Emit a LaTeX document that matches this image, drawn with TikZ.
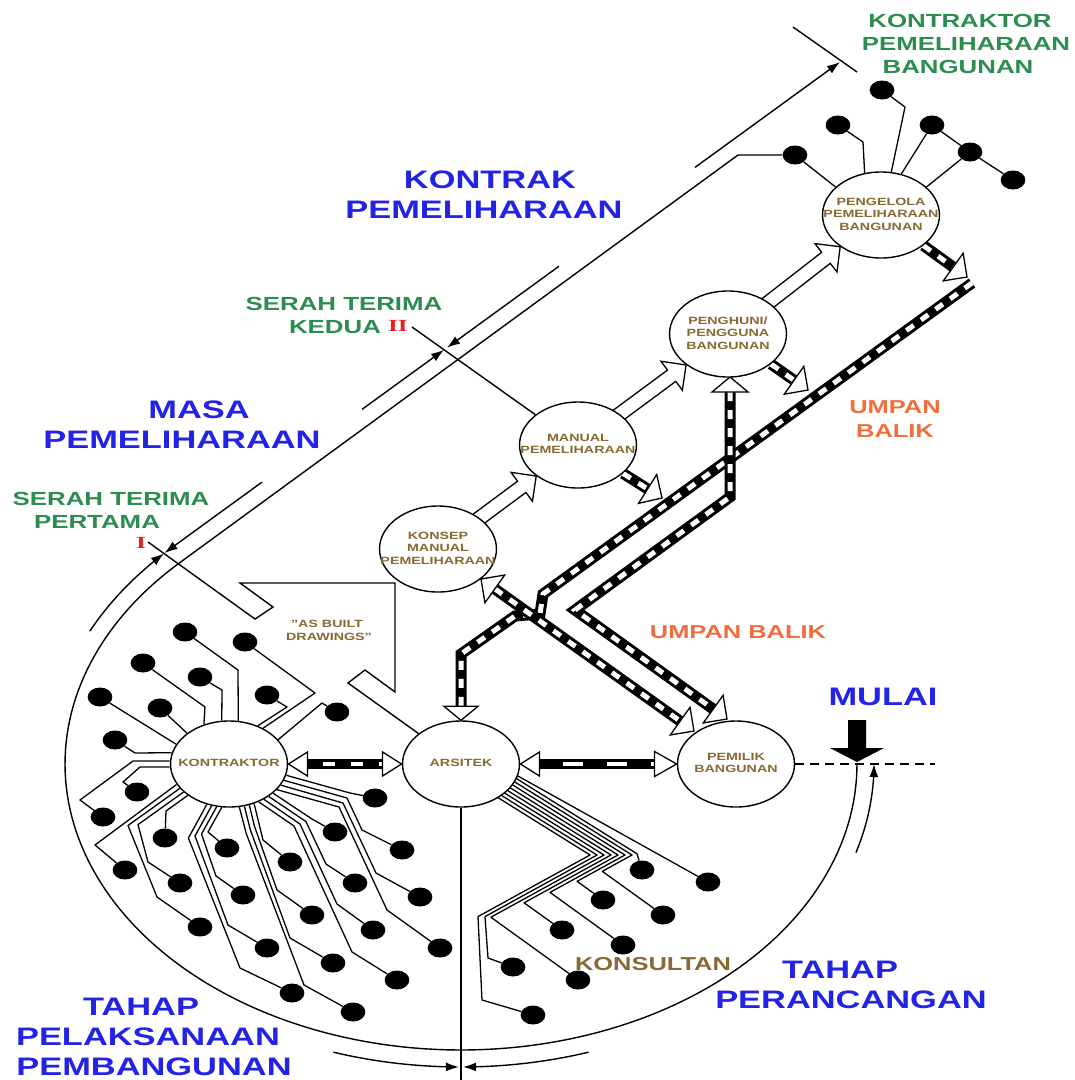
\documentclass[tikz,border=0pt]{standalone}
\usepackage{fontspec}
\setmainfont{Liberation Sans}
\newfontfamily\romanfont{Liberation Serif}
\usetikzlibrary{arrows.meta,calc,backgrounds}
\definecolor{tblue}{RGB}{35,35,230}
\definecolor{tgreen}{RGB}{45,140,80}
\definecolor{torange}{RGB}{240,110,60}
\definecolor{tbrown}{RGB}{135,105,50}
\definecolor{tred}{RGB}{235,30,30}
\newcommand\bubtxt[1]{\makebox[0pt]{\begin{tabular}{@{}c@{}}#1\end{tabular}}}
\newcommand\rhead[4]{%
  \coordinate (hhb) at ($(#1)!#3!(#2)$);
  \draw[fill=white,line width=1.3pt,line join=miter]
    (#1) -- ($(hhb)!#4!90:(#1)$) -- ($(hhb)!#4!-90:(#1)$) -- cycle;}
\newcommand\rrailD[1]{%
  \draw[line width=11pt,line join=miter] #1;
  \draw[line width=5pt,white,dash pattern=on 9pt off 9pt,line join=miter] #1;}
\newcommand\rrailH[2]{%
  \draw[line width=10pt] #1;
  \draw[line width=4pt,white,#2] #1;}
\newcommand\blockarr[2]{%
  \coordinate (bab) at ($(#2)!18pt!(#1)$);
  \filldraw[fill=white,line width=1.3pt,line join=miter]
    ($(#1)!7pt!90:(#2)$) -- ($(bab)!7pt!90:(#2)$) -- ($(bab)!18pt!90:(#2)$)
    -- (#2) -- ($(bab)!18pt!-90:(#2)$) -- ($(bab)!7pt!-90:(#2)$) -- ($(#1)!7pt!-90:(#2)$);}
\tikzset{
  bub/.style={circle,draw=black,line width=1.4pt,fill=white,minimum size=86pt,inner sep=0pt,xscale=1.36,text=tbrown,font=\fontsize{10.5}{12.5}\selectfont\bfseries},
  blob/.style={circle,fill=black,minimum size=19pt,inner sep=0pt,xscale=1.3},
  wire/.style={line width=1.3pt,line join=round},
  guide/.style={line width=1.4pt},
  dimtip/.style={-{Latex[length=13pt,width=9pt]}},
  lab/.style={anchor=base,inner sep=0pt,xscale=1.36},
  bluet/.style={lab,text=tblue,font=\fontsize{25.3}{30}\selectfont\bfseries},
  greent/.style={lab,text=tgreen,font=\fontsize{19}{22}\selectfont\bfseries},
  oranget/.style={lab,text=torange,font=\fontsize{18.7}{22}\selectfont\bfseries},
  redt/.style={lab,xscale=1.1,text=tred,font=\romanfont\fontsize{17}{20}\selectfont\bfseries},
  brownt/.style={lab,text=tbrown,font=\fontsize{10.5}{12.5}\selectfont\bfseries},
  brownbig/.style={lab,text=tbrown,font=\fontsize{18.7}{22}\selectfont\bfseries},
}
\begin{document}
\begin{tikzpicture}[x=1pt,y=-1pt]
\useasboundingbox (0,0) rectangle (1075,1080);
% ---------- bubbles ----------
\node[bub] (kon) at (229,764) {\bubtxt{KONTRAKTOR}};
\node[bub] (ars) at (461,764) {\bubtxt{ARSITEK}};
\node[bub] (pem) at (736,764) {\bubtxt{PEMILIK\\BANGUNAN}};
\node[bub] (kmp) at (438,549) {\bubtxt{KONSEP\\MANUAL\\PEMELIHARAAN}};
\node[bub] (mp) at (578,445) {\bubtxt{MANUAL\\PEMELIHARAAN}};
\node[bub] (peng) at (728,334) {\bubtxt{PENGHUNI/\\PENGGUNA\\BANGUNAN}};
\node[bub] (pgl) at (881,215) {\bubtxt{PENGELOLA\\PEMELIHARAAN\\BANGUNAN}};
% ---------- dots ----------
\foreach \n/\a/\b in {kd1/185/632, kd2/245/642, kd3/143/663, kd4/200/677, kd5/267/695, kd6/337/712, kd7/100/697, kd8/160/708, kd9/115/740, kd10/103/817, kd11/137/792,
  la1/125/870, la2/165/838, la3/180/883, la4/200/927,
  m1/227/848, m2/243/895, m3/267/948, m4/292/993,
  a1/290/862, a2/312/915, a3/333/963, a4/353/1012,
  b1/335/832, b2/355/883, b3/373/930, b4/397/980,
  c1/375/798, c2/402/850, c3/420/897, c4/440/948,
  ad1/708/882, ad2/642/870, ad3/663/915, ad4/603/900, ad5/623/945, ad6/562/930, ad7/578/980, ad8/513/967, ad9/533/1015,
  pd1/882/90, pd2/838/125, pd3/932/125, pd4/970/152, pd5/1013/180, pd6/795/155}
  \node[blob] (\n) at (\a,\b) {};
% ---------- texts ----------
\node[bluet] (t1) at (490,188) {KONTRAK};
\node[bluet] (t2) at (484,218) {PEMELIHARAAN};
\node[bluet] (t3) at (199,418) {MASA};
\node[bluet] (t4) at (182,448) {PEMELIHARAAN};
\node[bluet] (t5) at (141,1015) {TAHAP};
\node[bluet] (t6) at (148,1045) {PELAKSANAAN};
\node[bluet] (t7) at (154,1075) {PEMBANGUNAN};
\node[bluet] (t8) at (840,978) {TAHAP};
\node[bluet] (t9) at (851,1008) {PERANCANGAN};
\node[bluet] (t10) at (883,705) {MULAI};
\node[greent] (g1) at (344,310) {SERAH TERIMA};
\node[greent] (g2) at (335,333) {KEDUA};
\node[redt] (r2) at (398,331) {II};
\node[greent] (g3) at (111,505) {SERAH TERIMA};
\node[greent] (g4) at (97,528) {PERTAMA};
\node[redt] (r1) at (141,548) {I};
\node[greent] (g5) at (960,27) {KONTRAKTOR};
\node[greent] (g6) at (966,50) {PEMELIHARAAN};
\node[greent] (g7) at (958,73) {BANGUNAN};
\node[oranget] (o1) at (738,638) {UMPAN BALIK};
\node[oranget] (o2) at (895,413) {UMPAN};
\node[oranget] (o3) at (895,437) {BALIK};
\node[brownbig] (kons) at (653,970) {KONSULTAN};
\node[brownt] (ab1) at (327,627) {"AS BUILT};
\node[brownt] (ab2) at (329,640) {DRAWINGS"};
% MULAI arrow
\fill (848,720) -- (866,720) -- (866,748) -- (884,748) -- (857,762) -- (830,748) -- (848,748) -- cycle;
% ---------- connectors ----------
\begin{scope}[on background layer]
% big ellipse and long line
\draw[guide] plot[domain=0:225,samples=150] ({461+396*cos(\x)},{764+286*sin(\x)}) -- (738,155) -- (pd6);
% outer dimension arcs
\draw[guide,dimtip] plot[domain=206:224,samples=30] ({461+413*cos(\x)},{764+303*sin(\x)});
\draw[guide,dimtip] plot[domain=108:90.3,samples=30] ({461+413*cos(\x)},{764+303*sin(\x)});
\draw[guide,dimtip] plot[domain=72:89.7,samples=30] ({461+413*cos(\x)},{764+303*sin(\x)});
\draw[guide,dimtip] plot[domain=17:0,samples=30] ({461+413*cos(\x)},{764+303*sin(\x)});
% dimension line segments
\draw[guide,dimtip] (262,482.1) -- (164.5,553);
\draw[guide,dimtip] (362,409.4) -- (444,349.8);
\draw[guide,dimtip] (559,266.2) -- (447,347.7);
\draw[guide,dimtip] (695,167.4) -- (840,62);
\draw[guide] (793,27) -- (857,72);
\draw[guide] (412,327) -- (mp);
\draw[guide] (148,542) -- (255,619) -- (273,607) -- (240,583) -- (395,583) -- (395,692) -- (365,670) -- (348,683) -- (ars);
\draw[guide] (ars) -- (461,1080);
\draw[guide,dash pattern=on 9pt off 6pt] (pem) -- (935,764);
% kontraktor traces
\draw[wire] (kd1) -- (238,670) -- (kon.81);
\draw[wire] (kd3) -- (205,707) -- (kon.115);
\draw[wire] (kd4) -- (222,690) -- (kon.97);
\draw[wire] (kd2) -- (315,693) -- (kon.55);
\draw[wire] (kd5) -- (287,707) -- (kon.61);
\draw[wire] (kd6) -- (322,703) -- (kon.34);
\draw[wire] (kd7) -- (kon.153);
\draw[wire] (kd8) -- (kon.135);
\draw[wire] (kd9) -- (135,753) -- (kon.165);
\draw[wire] (kd10) -- (80,800) -- (133,761) -- (kon.176);
\draw[wire] (kd11) -- (123,782) -- (140,767) -- (kon.184);
\draw[wire] (kon.-152) -- (95,845) -- (la1);
\draw[wire] (kon.-146) -- (128,825.5) -- (157,897) -- (la4);
\draw[wire] (kon.-140) -- (138,824.6) -- (148,862) -- (la3);
\draw[wire] (kon.-134) -- (166,811) -- (la2);
\draw[wire] (kon.-97) -- (208,832) -- (m1);
\draw[wire] (kon.-102) -- (201.5,834) -- (216,876) -- (m2);
\draw[wire] (kon.-107) -- (195,836) -- (228,925) -- (m3);
\draw[wire] (kon.-112) -- (188.4,838) -- (240,968) -- (m4);
\draw[wire] (kon.-65) -- (263,840) -- (a1);
\draw[wire] (kon.-70) -- (254.4,826) -- (277,890) -- (a2);
\draw[wire] (kon.-75) -- (250.4,830) -- (290,938) -- (a3);
\draw[wire] (kon.-80) -- (246.4,834) -- (304,985) -- (a4);
\draw[wire] (kon.-42) -- (312,819) -- (b1);
\draw[wire] (kon.-48) -- (306,821.6) -- (326,864) -- (b2);
\draw[wire] (kon.-54) -- (300,824) -- (337,904) -- (b3);
\draw[wire] (kon.-60) -- (294,826) -- (352,952) -- (b4);
\draw[wire] (kon.-15) -- (350,793) -- (c1);
\draw[wire] (kon.-22) -- (347,798) -- (362,830) -- (c2);
\draw[wire] (kon.-29) -- (343,803) -- (376,873) -- (c3);
\draw[wire] (kon.-36) -- (339,807) -- (387,910) -- (c4);
% arsitek (konsultan) traces
\draw[wire] (500,766) -- (ad1);
\draw[wire] (499,767.7) -- (637,853.8) -- (ad2);
\draw[wire] (492,767.7) -- (632,855) -- (602.3,871.3) -- (ad3);
\draw[wire] (485,767.7) -- (625,855) -- (577.1,881.3) -- (ad4);
\draw[wire] (478,767.7) -- (618,855) -- (550,892.4) -- (ad5);
\draw[wire] (471,767.7) -- (611,855) -- (524.1,902.8) -- (ad6);
\draw[wire] (464,767.7) -- (604,855) -- (490.9,917.2) -- (ad7);
\draw[wire] (457,767.7) -- (597,855) -- (485,916.6) -- (488,958) -- (ad8);
\draw[wire] (450,767.7) -- (590,855) -- (478,916.6) -- (482,1000) -- (ad9);
% pengelola traces
\draw[wire] (pd1) -- (905,107) -- (pgl.80);
\draw[wire] (pd2) -- (863,142) -- (pgl.106);
\draw[wire] (pd3) -- (pgl.70);
\draw[wire] (pd4) -- (pgl.40);
\draw[wire] (pd3) -- (pd4) -- (pd5);
\draw[wire] (pd6) -- (pgl.140);
% block arrows
\path (kmp) -- coordinate[pos=1] (ba1t) (mp);
\blockarr{kmp.center}{ba1t}
\path (mp) -- coordinate[pos=1] (ba2t) (peng);
\blockarr{mp.center}{ba2t}
\path (peng) -- coordinate[pos=1] (ba3t) (pgl);
\blockarr{peng.center}{ba3t}
% feedback rails
\coordinate (raT) at (967,277);
\coordinate (rbT) at (808,390);
\coordinate (rcT) at (662,498);
\path (pgl) -- coordinate[pos=0] (raS) (raT);
\path (peng) -- coordinate[pos=0] (rbS) (rbT);
\path (mp) -- coordinate[pos=0] (rcS) (rcT);
\rrailD{(raS) -- ($(raT)!17pt!(pgl.center)$)}
\rrailD{(rbS) -- ($(rbT)!17pt!(peng.center)$)}
\rrailD{(rcS) -- ($(rcT)!17pt!(mp.center)$)}
\coordinate (rdA) at (972,283);
\coordinate (rdB) at (543,594);
\coordinate (rdC) at (540,614);
\coordinate (rdD) at (515,616);
\coordinate (rdE) at (461,654);
\rrailD{(rdA) -- (rdB) -- (rdC) -- (rdD) -- (rdE) -- ($(ars.north)+(0,-14)$)}
\coordinate (reT) at (730,377);
\coordinate (reA) at (730,392);
\coordinate (reB) at (730,497);
\coordinate (reC) at (575,610);
\coordinate (pemT2) at (727,719);
\rrailD{(reA) -- (reB) -- (reC) -- ($(pemT2)!17pt!(reC)$)}
\coordinate (kmpT) at (481,579);
\coordinate (pemT1) at (694,731);
\rrailD{($(kmpT)!17pt!(pemT1)$) -- ($(pemT1)!17pt!(kmpT)$)}
\rrailH{($(kon.east)+(19,0)$) -- ($(ars.west)+(-19,0)$)}{dash pattern=on 12pt off 16pt,dash phase=12pt}
\rrailH{($(ars.east)+(19,0)$) -- ($(pem.west)+(-22,0)$)}{dash pattern=on 20pt off 24pt,dash phase=20pt}
% hollow arrowheads
\rhead{raT}{pgl.center}{17pt}{17pt}
\rhead{rbT}{peng.center}{17pt}{17pt}
\rhead{rcT}{mp.center}{17pt}{17pt}
\rhead{ars.north}{rdE}{14pt}{17pt}
\rhead{reT}{reA}{15pt}{18pt}
\rhead{pemT2}{reC}{17pt}{17pt}
\rhead{kmpT}{pemT1}{17pt}{17pt}
\rhead{pemT1}{kmpT}{17pt}{17pt}
\rhead{kon.east}{ars.west}{19pt}{12pt}
\rhead{ars.west}{kon.east}{19pt}{12pt}
\rhead{ars.east}{pem.west}{19pt}{12pt}
\rhead{pem.west}{ars.east}{22pt}{12.5pt}
\end{scope}
\end{tikzpicture}
\end{document}
